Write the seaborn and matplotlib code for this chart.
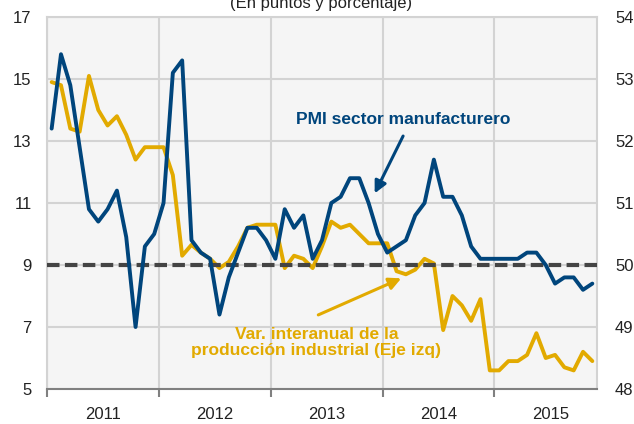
### Bibliotecas
import numpy as np
import matplotlib
matplotlib.use("Agg")
import matplotlib.pyplot as plt
import seaborn as sns

### Dados (mensal, jan/2011 - nov/2015)
anos = ["2011", "2012", "2013", "2014", "2015"]
meses_por_ano = 12

# Var. interanual de la producción industrial (eje izq, %)
ipi = [14.9, 14.8, 13.4, 13.3, 15.1, 14.0, 13.5, 13.8, 13.2, 12.4, 12.8, 12.8,
       12.8, 11.9, 9.3, 9.65, 9.4, 9.2, 8.9, 9.1, 9.6, 10.2, 10.3, 10.3,
       10.3, 8.9, 9.3, 9.2, 8.9, 9.6, 10.4, 10.2, 10.3, 10.0, 9.7, 9.7,
       9.7, 8.8, 8.7, 8.85, 9.2, 9.05, 6.9, 8.0, 7.7, 7.2, 7.9, 5.6,
       5.6, 5.9, 5.9, 6.1, 6.8, 6.0, 6.1, 5.7, 5.6, 6.2, 5.9]

# PMI sector manufacturero (eje der, puntos)
pmi = [52.2, 53.4, 52.9, 51.9, 50.9, 50.7, 50.9, 51.2, 50.45, 49.0, 50.3, 50.5,
       51.0, 53.1, 53.3, 50.4, 50.2, 50.1, 49.2, 49.8, 50.2, 50.6, 50.6, 50.4,
       50.1, 50.9, 50.6, 50.8, 50.1, 50.4, 51.0, 51.1, 51.4, 51.4, 51.0, 50.5,
       50.2, 50.3, 50.4, 50.8, 51.0, 51.7, 51.1, 51.1, 50.8, 50.3, 50.1, 50.1,
       50.1, 50.1, 50.1, 50.2, 50.2, 50.0, 49.7, 49.8, 49.8, 49.6, 49.7]

umbral_pmi = 50

meses = np.arange(len(pmi))

### Estilo
azul = "#00457c"
amarelo = "#e2aa00"
cinza_grade = "#d3d3d3"

sns.set_style("whitegrid", {"axes.facecolor": "#f5f5f5", "grid.color": cinza_grade,
                            "axes.edgecolor": cinza_grade})
plt.rcParams["font.family"] = ["Liberation Sans", "DejaVu Sans"]

fig = plt.figure(figsize = (6.34, 4.24), dpi = 100)
ax = fig.add_axes([47/634, 1 - 389/424, 550/634, 372/424])
ax2 = ax.twinx()

### Linhas
sns.lineplot(x = meses, y = ipi, ax = ax, color = amarelo, linewidth = 2.8, zorder = 3)
sns.lineplot(x = meses, y = pmi, ax = ax2, color = azul, linewidth = 2.8, zorder = 4)
ax2.axhline(umbral_pmi, color = "#444444", linewidth = 3, linestyle = (0, (3, 1.3)),
            zorder = 2)

### Eixos
ax.set_ylim(5, 17)
ax.set_yticks(np.arange(5, 18, 2))
ax2.set_ylim(48, 54)
ax2.set_yticks(np.arange(48, 55, 1))
ax.set_xlim(-0.5, len(meses) - 0.5)

limites = [-0.5 + meses_por_ano * k for k in range(len(anos))]
centros = [-0.5 + meses_por_ano * k + meses_por_ano / 2 for k in range(len(anos))]
ax.set_xticks(limites)
ax.set_xticklabels([])
ax.set_xticks(centros, minor = True)
ax.set_xticklabels(anos, minor = True)
ax.tick_params(axis = "x", which = "major", length = 6, width = 1.5, color = "#808080",
               direction = "out", bottom = True)
ax.tick_params(axis = "x", which = "minor", length = 0, pad = 13, labelsize = 12,
               labelcolor = "#222222")
ax.tick_params(axis = "y", length = 0, pad = 11, labelsize = 12, labelcolor = "#222222")
ax2.tick_params(axis = "y", length = 0, pad = 13, labelsize = 12, labelcolor = "#222222")

ax.grid(True, which = "major", color = cinza_grade, linewidth = 1.5)
ax.grid(False, which = "minor")
ax2.grid(False)
ax.set_axisbelow(True)
for lado in ["top", "left", "right"]:
    ax.spines[lado].set_color(cinza_grade)
    ax.spines[lado].set_linewidth(1.5)
    ax2.spines[lado].set_visible(False)
ax.spines["bottom"].set_color("#808080")
ax.spines["bottom"].set_linewidth(1.5)
ax2.spines["bottom"].set_visible(False)
ax.set_xlabel("")
ax.set_ylabel("")
ax2.set_ylabel("")

### Anotações (textos e setas separados)
ax.text(37.7, 13.68, "PMI sector manufacturero", ha = "center", va = "center",
        fontsize = 12.5, fontweight = "bold", color = azul, zorder = 6)
ax.annotate("", xy = (34.65, 11.31), xytext = (37.7, 13.16),
            arrowprops = dict(arrowstyle = "-|>", color = azul, lw = 2.2,
                              shrinkA = 0, shrinkB = 0, mutation_scale = 18), zorder = 6)

ax.text(28.4, 6.5, "Var. interanual de la\nproducción industrial (Eje izq)",
        ha = "center", va = "center", fontsize = 12.5, fontweight = "bold",
        color = amarelo, linespacing = 1.1, zorder = 6)
ax.annotate("", xy = (37.5, 8.57), xytext = (28.6, 7.39),
            arrowprops = dict(arrowstyle = "-|>", color = amarelo, lw = 2.2,
                              shrinkA = 0, shrinkB = 0, mutation_scale = 18), zorder = 6)

fig.text(0.506, 1 - 8/424, "(En puntos y porcentaje)", ha = "center", va = "baseline",
         fontsize = 12, color = "#222222")

plt.savefig("out.png", dpi = 100)
